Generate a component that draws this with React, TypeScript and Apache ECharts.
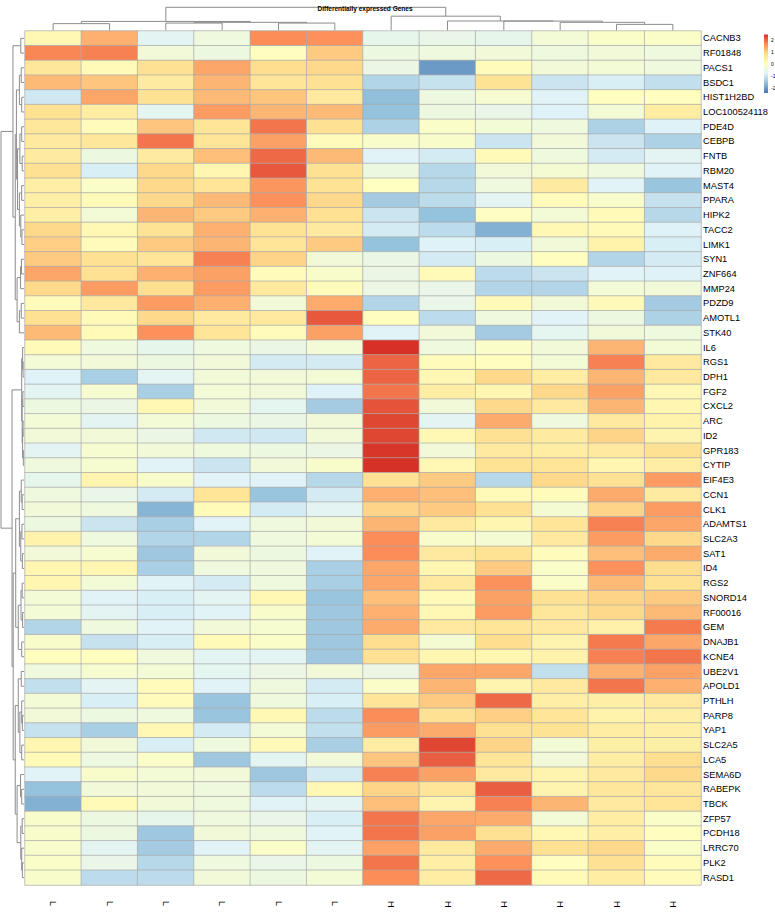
import React, { useEffect, useRef } from "react";
import * as echarts from "echarts";

const chartTitle = "Differentially expressed Genes";
const sampleLabels = ["L", "L", "L", "L", "L", "L", "H", "H", "H", "H", "H", "H"];
const genes = [
  "CACNB3", "RF01848", "PACS1", "BSDC1", "HIST1H2BD", "LOC100524118", "PDE4D", "CEBPB", "FNTB", "RBM20",
  "MAST4", "PPARA", "HIPK2", "TACC2", "LIMK1", "SYN1", "ZNF664", "MMP24", "PDZD9", "AMOTL1",
  "STK40", "IL6", "RGS1", "DPH1", "FGF2", "CXCL2", "ARC", "ID2", "GPR183", "CYTIP",
  "EIF4E3", "CCN1", "CLK1", "ADAMTS1", "SLC2A3", "SAT1", "ID4", "RGS2", "SNORD14", "RF00016",
  "GEM", "DNAJB1", "KCNE4", "UBE2V1", "APOLD1", "PTHLH", "PARP8", "YAP1", "SLC2A5", "LCA5",
  "SEMA6D", "RABEPK", "TBCK", "ZFP57", "PCDH18", "LRRC70", "PLK2", "RASD1",
];

// z-scores, one row per gene (same order as genes), columns as sampleLabels
const zScores = [
  [0.2, 1.3, -0.7, -0.4, 1.65, 1.6, -0.6, -0.55, -0.6, -0.3, -0.1, -0.1],
  [1.7, 1.75, -0.35, -0.45, 0.05, 1.05, -0.45, -0.4, -0.35, -0.4, -0.35, -0.4],
  [0.65, 0.15, 0.8, 1.4, 0.85, 0.9, -0.5, -2.0, 0.1, -0.35, -0.3, -0.4],
  [1.2, 1.1, 0.55, 1.25, 0.7, 0.8, -1.25, -1.05, 0.75, -1.0, -0.85, -1.1],
  [-0.95, 1.4, 0.8, 1.2, 1.1, 0.6, -1.6, -0.45, -0.2, -0.75, 0.05, 0.05],
  [0.8, 0.5, -0.65, 1.5, 1.25, 1.2, -1.55, -0.45, -0.55, -0.8, -0.3, 0.5],
  [0.65, 0.1, 1.1, 0.7, 1.85, 0.8, -1.3, -0.1, -0.3, -0.4, -1.3, -0.8],
  [0.6, 0.65, 1.85, 0.7, 1.45, 0.1, -0.15, -0.15, -1.0, -0.35, -1.0, -1.3],
  [0.55, -0.45, 0.55, 1.15, 1.95, 1.2, -0.75, -0.9, 0.15, -0.4, -0.9, -0.7],
  [0.8, -0.85, 0.9, 0.25, 2.1, 0.8, -0.45, -1.2, -0.35, -0.25, -0.4, -0.75],
  [0.45, -0.1, 0.9, 0.7, 1.55, 0.75, 0.0, -1.2, -0.4, 0.55, -0.75, -1.5],
  [0.45, 0.15, 0.9, 1.2, 1.6, 0.9, -1.4, -1.15, -0.7, 0.1, -0.15, -1.05],
  [0.45, -0.3, 1.25, 1.05, 1.3, 0.8, -1.0, -1.55, -0.05, -0.3, 0.15, -1.2],
  [0.9, 0.2, 0.75, 1.3, 0.75, 0.6, -0.9, -1.15, -1.75, 0.2, 0.15, -0.8],
  [1.0, 0.1, 1.05, 1.25, 0.7, 1.05, -1.55, -0.8, -0.85, -0.35, 0.35, -0.85],
  [1.05, 0.8, 0.7, 1.75, 0.95, -0.35, -0.5, -0.9, -0.45, 0.05, -1.25, -0.9],
  [1.4, 0.8, 1.3, 1.45, 0.1, -0.15, -0.5, 0.15, -1.15, -1.0, -0.75, -0.8],
  [0.9, 1.5, 0.85, 1.5, 0.6, 0.1, -0.5, -0.55, -1.25, -1.25, -0.3, -0.35],
  [0.1, 0.6, 1.5, 1.3, -0.35, 1.35, -1.25, -0.55, 0.15, -0.35, 0.15, -1.4],
  [0.8, 0.15, 0.9, 0.6, 0.6, 2.1, 0.05, -1.15, -0.4, -0.75, -0.45, -1.3],
  [1.2, 0.15, 1.6, 0.7, 0.1, 1.45, -0.75, -0.35, -1.4, -0.65, -0.35, -0.4],
  [0.15, -0.4, -0.6, -0.4, -0.5, -0.3, 2.45, -0.4, -0.1, -0.35, 1.25, -0.3],
  [-0.3, -0.35, -0.45, -0.35, -0.9, -0.9, 2.0, 0.1, 0.05, -0.3, 1.75, 0.6],
  [-0.8, -1.35, -0.7, -0.35, -0.35, -0.3, 2.0, 0.2, 0.9, 0.5, 1.25, 0.6],
  [-0.7, -0.2, -1.35, -0.3, -0.35, -0.8, 1.85, 0.5, 0.25, 0.9, 1.45, 0.2],
  [-0.45, -0.5, 0.2, -0.35, -0.65, -1.4, 2.15, -0.35, 0.9, 0.6, 1.25, 0.25],
  [-0.3, -0.7, -0.3, -0.45, -0.5, -0.35, 2.25, -0.7, 1.35, -0.4, 0.6, 0.35],
  [-0.35, -0.35, -0.5, -0.95, -0.95, -0.35, 2.25, 0.2, 0.8, 0.55, 0.95, 0.3],
  [-0.7, -0.2, -0.35, -0.4, -0.45, -0.5, 2.4, -0.35, 0.6, 0.5, 0.6, 0.8],
  [-0.4, -0.2, -0.75, -1.0, -0.35, -0.15, 2.45, 0.2, 0.75, 0.7, 0.25, 0.5],
  [-0.6, 0.3, -0.15, -0.75, -0.75, -1.2, 0.8, 1.05, -1.2, 0.9, 0.8, 1.5],
  [-0.4, -0.55, -0.9, 0.7, -1.5, -0.9, 1.3, 1.15, 0.15, 0.1, 1.35, 0.55],
  [-0.35, -0.4, -1.7, 0.15, -0.9, -0.7, 0.95, 1.05, 0.8, -0.25, 0.95, 1.5],
  [-0.45, -1.0, -1.35, -0.75, -0.4, -0.35, 1.25, 0.6, 0.25, 0.7, 1.75, 1.4],
  [0.35, -0.4, -1.25, -1.25, -0.4, -0.3, 1.65, -0.15, -0.25, 0.6, 1.5, 0.9],
  [-0.35, -0.2, -1.45, -0.35, -0.45, -0.75, 1.65, 0.6, 0.75, 0.1, 1.15, 1.35],
  [0.25, 0.25, -1.35, -0.4, -0.4, -1.35, 1.4, 0.25, 1.05, -0.1, 1.6, 0.85],
  [0.25, -0.3, -0.75, -0.9, -0.4, -1.35, 1.4, 0.6, 1.6, -0.1, 1.2, 0.8],
  [-0.3, -0.75, -0.85, -0.7, 0.2, -1.5, 1.15, 0.15, 1.45, 0.8, 0.95, 1.05],
  [-0.3, -0.7, -0.85, -0.75, -0.15, -1.45, 1.3, 0.2, 1.5, 0.65, 0.9, 1.2],
  [-1.25, -0.4, -0.75, -0.35, -0.2, -1.45, 1.35, 0.6, 0.7, 0.6, 0.4, 1.8],
  [-0.15, -1.05, -0.85, 0.15, -0.1, -1.45, 0.85, -0.25, 0.85, 0.3, 1.8, 1.4],
  [0.05, 0.05, -0.4, -0.7, -0.7, -1.45, 0.8, 0.25, 0.25, 0.35, 1.75, 1.85],
  [-0.4, -0.2, -0.3, -0.65, -0.5, -0.35, -0.5, 1.4, 1.4, -1.1, 1.3, 1.45],
  [-1.1, -0.7, 0.1, -0.75, -0.4, -0.9, -0.1, 1.25, 0.3, 0.6, 1.85, 1.3],
  [-0.3, -0.85, 0.1, -1.5, -0.4, -0.85, 0.7, 1.05, 1.95, 0.45, 0.45, 0.6],
  [-0.35, -0.45, -0.4, -1.5, 0.2, -1.15, 1.65, 0.8, 1.0, 0.7, 0.35, 0.45],
  [-1.05, -1.35, 0.2, -0.9, -0.3, -1.1, 1.5, 1.35, 0.8, 0.75, 0.5, 0.45],
  [0.25, -0.35, -0.85, -0.4, 0.15, -1.35, 0.5, 2.25, 0.95, -0.3, 0.45, 0.45],
  [0.15, -0.45, -0.1, -1.45, -0.7, -0.35, 1.1, 2.05, 0.7, -0.35, 0.5, 0.85],
  [-0.75, -0.15, -0.3, -0.35, -1.45, -0.9, 1.75, 1.45, 0.6, 0.3, 0.6, 0.9],
  [-1.55, -0.35, -0.35, -0.4, -1.15, 0.2, 0.95, 0.7, 2.05, 0.3, 0.65, 0.65],
  [-1.75, 0.15, -0.35, -0.4, -0.75, -0.7, 1.15, 0.3, 1.75, 1.25, 0.6, 0.7],
  [-0.15, -0.45, -0.6, -0.4, -0.55, -0.85, 1.85, 1.4, 1.35, -0.3, 0.5, -0.1],
  [-0.15, -0.45, -1.45, -0.35, -0.4, -0.75, 1.85, 1.45, 0.8, 0.2, 0.45, 0.05],
  [-0.15, -0.7, -1.4, -0.75, -0.1, -0.7, 1.45, 0.6, 1.35, 0.8, 0.9, -0.1],
  [-0.1, -0.55, -1.2, -0.4, -0.55, -0.45, 1.85, 0.45, 1.6, 0.05, 0.8, 0.1],
  [-0.15, -1.15, -1.15, -0.35, -0.45, -0.3, 1.65, 0.5, 1.95, 0.15, 0.5, 0.1],
];

// colour scale (pheatmap default RdYlBu, reversed) and legend ticks
const palette = ["#4575B4", "#91BFDB", "#E0F3F8", "#FFFFBF", "#FEE090", "#FC8D59", "#D73027"];
const scaleMin = -2.4;
const scaleMax = 2.45;
const legendTicks = [2, 1, 0, -1, -2];

// dendrograms: [mergeHeight (fraction of root), left, right]; leaves are indices
const colTree: any = [1.0,
  [0.39, [0.295, 0, 1], [0.352, [0.32, 2, 3], [0.32, 4, 5]]],
  [0.617, 6, [0.41, 7, [0.405, 8, [0.352, 9, [0.264, 10, 11]]]]],
];
const rowTree: any = [1.0,
  [0.48,
    [0.14, 0, 1],
    [0.38,
      [0.33,
        [0.2, [0.12, 2, 3], [0.1, 4, 5]],
        [0.28, [0.18, [0.1, 6, 7], [0.08, 8, 9]], [0.2, [0.1, 10, 11], [0.14, 12, [0.09, 13, 14]]]]],
      [0.3, [0.15, [0.11, 15, 16], 17], [0.2, [0.12, 18, 19], 20]]]],
  [0.52,
    [0.1, [0.06, 21, [0.04, 22, 23]], [0.08, [0.05, 24, 25], [0.06, [0.04, 26, 27], [0.03, 28, 29]]]],
    [0.47,
      [0.36,
        [0.2, [0.12, 30, [0.08, 31, 32]], [0.14, [0.09, 33, 34], [0.07, 35, 36]]],
        [0.25, [0.13, [0.08, 37, 38], [0.06, 39, 40]], [0.1, 41, 42]]],
      [0.38,
        [0.25, [0.12, 43, 44], [0.18, [0.1, 45, [0.07, 46, 47]], [0.1, 48, 49]]],
        [0.3, [0.15, 50, [0.1, 51, 52]], [0.14, [0.08, 53, 54], [0.1, 55, [0.07, 56, 57]]]]]]],
];

const W = 775;
const H = 923;
const font = "'Liberation Sans', Arial, Helvetica, sans-serif";

function walk(node: any, leafPos: number[], segs: number[][][], toPt: (p: number, h: number) => number[]): { p: number; h: number } {
  if (typeof node === "number") return { p: leafPos[node], h: 0 };
  const [h, a, b] = node;
  const ra = walk(a, leafPos, segs, toPt);
  const rb = walk(b, leafPos, segs, toPt);
  segs.push([toPt(ra.p, ra.h), toPt(ra.p, h), toPt(rb.p, h), toPt(rb.p, rb.h)]);
  return { p: (ra.p + rb.p) / 2, h };
}

export default function App() {
  const ref = useRef<HTMLDivElement>(null);
  useEffect(() => {
    document.body.style.margin = "0";
    const chart = echarts.init(ref.current as HTMLDivElement, null, { renderer: "svg", width: W, height: H });
    const data: number[][] = [];
    zScores.forEach((row, r) => row.forEach((v, c) => data.push([c, r, v])));
    const gTop = 31, gBottom = 38, gLeft = 25, gRight = 74;
    chart.setOption({
      animation: false,
      title: {
        text: chartTitle, left: 360, top: 0, textAlign: "center",
        textStyle: { fontSize: 6.5, fontWeight: "bold", color: "#000", fontFamily: font },
      },
      grid: { left: gLeft, right: gRight, top: gTop, bottom: gBottom, containLabel: false },
      xAxis: {
        type: "category", data: sampleLabels, position: "bottom",
        axisLine: { show: false }, axisTick: { show: false }, splitLine: { show: false },
        axisLabel: { rotate: -90, fontSize: 9.3, color: "#000", margin: 16, fontFamily: font, interval: 0 },
      },
      yAxis: {
        type: "category", data: genes, inverse: true, position: "right",
        axisLine: { show: false }, axisTick: { show: false }, splitLine: { show: false },
        axisLabel: { fontSize: 9.3, color: "#000", margin: 2, fontFamily: font, interval: 0 },
      },
      visualMap: {
        show: false, type: "continuous", dimension: 2, min: scaleMin, max: scaleMax,
        inRange: { color: palette },
      },
      series: [{
        type: "heatmap", data,
        itemStyle: { borderColor: "#aaaaaa", borderWidth: 0.7 },
        emphasis: { disabled: true },
      }],
    });

    const colPos = sampleLabels.map((_, i) => (chart.convertToPixel({ gridIndex: 0 }, [i, 0]) as number[])[0]);
    const rowPos = genes.map((_, i) => (chart.convertToPixel({ gridIndex: 0 }, [0, i]) as number[])[1]);

    const colSegs: number[][][] = [];
    const yLeaf = 30.5, yRoot = 7.3;
    walk(colTree, colPos, colSegs, (p, h) => [p, yLeaf - h * (yLeaf - yRoot)]);
    const rowSegs: number[][][] = [];
    const xLeaf = 24, xRoot = 1;
    walk(rowTree, rowPos, rowSegs, (p, h) => [xLeaf - h * (xLeaf - xRoot), p]);

    const lineStyle = { stroke: "#8c8c8c", lineWidth: 1, fill: "none" };
    const graphics: any[] = [];
    [...colSegs, ...rowSegs].forEach((pts) =>
      graphics.push({ type: "polyline", silent: true, shape: { points: pts }, style: lineStyle }));

    // colour legend
    const lx = 764, ly = 34.5, lw = 4, lh = 58.5;
    const stops = palette.slice().reverse().map((c, i) => ({ offset: i / (palette.length - 1), color: c }));
    graphics.push({
      type: "rect", silent: true, shape: { x: lx, y: ly, width: lw, height: lh },
      style: { fill: new echarts.graphic.LinearGradient(0, 0, 0, 1, stops) },
    });
    legendTicks.forEach((t) => {
      const y = ly + ((scaleMax - t) / (scaleMax - scaleMin)) * lh;
      graphics.push({
        type: "text", silent: true, x: lx + lw + 3, y,
        style: { text: String(t), fontSize: 5, fill: "#000", fontFamily: font, verticalAlign: "middle", align: "left" },
      });
    });
    chart.setOption({ graphic: graphics });
    return () => chart.dispose();
  }, []);
  return <div ref={ref} style={{ width: W, height: H, position: "absolute", left: 0, top: 0 }} />;
}
